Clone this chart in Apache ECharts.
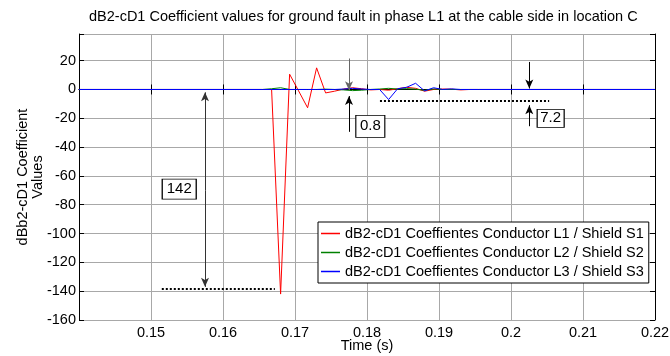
<!DOCTYPE html>
<html><head><meta charset="utf-8">
<script src="https://cdn.jsdelivr.net/npm/echarts@6/dist/echarts.min.js"></script>
<style>html,body{margin:0;padding:0;background:#fff}#c{width:670px;height:356px}</style>
</head><body><div id="c"></div>
<script>
const times = [0.14, 0.1655, 0.16675, 0.168, 0.16925, 0.1705, 0.17175, 0.173, 0.17425, 0.1755, 0.17675, 0.178, 0.17925, 0.1805, 0.18175, 0.183, 0.18425, 0.1855, 0.18675, 0.188, 0.18925, 0.1905, 0.19175, 0.193, 0.19425, 0.1955, 0.2, 0.22];
const redL1 =   [0, 0, 0, -142, 10.6, -1, -12.7, 15, -2.4, -1.2, 0.3, 1.2, 0.5, -0.3, 0, -0.5, 0.5, 1.5, 0.8, -1.2, 0, 0.3, 0.2, -0.3, 0, 0, 0, 0];
const greenL2 = [0, 0, 0.5, 1.2, 0, 0, 0, 0, 0.2, 0, -0.3, -0.8, -0.5, 0, 0.3, 0.8, 0.3, 0.6, 0.2, -0.6, 0.4, 0, 0, 0, 0, 0, 0, 0];
const blueL3 =  [0, 0, 0, 0, 0, 0, 0, 0, 0, 0, 0.3, 0.8, 0.3, 0, 0, -7, 0.5, 1.5, 4.3, -1, 1.2, 0, 0.4, 0, 0, 0, 0, 0];
const seriesNames = ['dB2-cD1 Coeffientes Conductor L1 / Shield S1','dB2-cD1 Coeffientes Conductor L2 / Shield S2','dB2-cD1 Coeffientes Conductor L3 / Shield S3'];
const seriesColors = ['#ff0000','#008000','#0000ff'];
const titleText = 'dB2-cD1 Coefficient values for ground fault in phase L1 at the cable side in location C';
const yName = ['dBb2-cD1 Coefficient','Values'];
const xName = 'Time (s)';
// annotations (data coords)
const annoArrows = [ // [x, yFrom, yTo, color]
  [0.1575, -70, -2, '#333'], [0.1575, -70, -137, '#333'],
  [0.1775, 21.5, -0.5, '#666'], [0.1775, -29.4, -4.6, '#000'],
  [0.20254, 19.1, 0.7, '#000'], [0.20254, -25.5, -10.9, '#000']
];
const annoDotted = [[0.1515, 0.1672, -138], [0.1818, 0.2053, -8.1]];
const annoBoxes = [[0.15392, -69.1, '142', 34, 20], [0.18046, -25.6, '0.8', 29, 22], [0.20551, -20, '7.2', 27, 18]];

const pair = (a,b)=>a.map((v,i)=>[v,b[i]]);
const chart = echarts.init(document.getElementById('c'), null, {renderer:'canvas'});
const FF = '"Liberation Sans", Arial, sans-serif';
const FS = 14.5;
const seriesData = [redL1, greenL2, blueL3];
const series = seriesData.map((d,i)=>({
  name: seriesNames[i], type:'line', data: pair(times,d), symbol:'none', showSymbol:false,
  lineStyle:{color:seriesColors[i], width:1}, itemStyle:{color:seriesColors[i]}, animation:false, silent:true, z:2+i
}));
const mlData = [];
annoArrows.forEach(a=>{
  mlData.push([{coord:[a[0],a[1]], symbol:'none', lineStyle:{color:a[3], width:1, type:'solid'}},{coord:[a[0],a[2]], symbol:'arrow', symbolSize:[6,9]}]);
});
annoDotted.forEach(d=>{
  mlData.push([{coord:[d[0],d[2]], symbol:'none', lineStyle:{color:'#000', width:2, type:[2,2]}},{coord:[d[1],d[2]], symbol:'none'}]);
});
series.push({
  name:'anno', type:'line', data:[], silent:true, animation:false, z:10,
  markLine:{silent:true, animation:false, symbol:['none','arrow'], label:{show:false}, emphasis:{disabled:true}, data:mlData},
  markPoint:{silent:true, animation:false, data: annoBoxes.map(b=>({coord:[b[0],b[1]], value:b[2], symbol:'rect', symbolSize:[b[3],b[4]],
    itemStyle:{color:'#fff', borderColor:'#000', borderWidth:1},
    label:{show:true, position:'inside', formatter:b[2], color:'#000', fontSize:15, fontFamily:FF}}))}
});
chart.setOption({
  animation:false,
  backgroundColor:'#fff',
  title:{text:titleText, left:89, top:9, textStyle:{fontSize:FS, fontWeight:'normal', color:'#000', fontFamily:FF}, padding:0},
  grid:{left:79, right:15, top:34, bottom:36, containLabel:false, outerBoundsMode:'none'},
  legend:{data:seriesNames, orient:'vertical', left:318, top:222, padding:[4,5,4,3], itemGap:4, itemWidth:19, itemHeight:1.5, itemTextGap:2, icon:'rect',
    backgroundColor:'#fff', borderColor:'#000', borderWidth:1, textStyle:{fontSize:FS, color:'#000', fontFamily:FF, lineHeight:15}, selectedMode:false},
  xAxis:[{type:'value', min:0.14, max:0.22, interval:0.01, name:xName, nameLocation:'middle', nameGap:18, nameMoveOverlap:false,
    nameTextStyle:{fontSize:FS, color:'#000', fontFamily:FF},
    axisLine:{lineStyle:{color:'#000', width:1}}, axisTick:{inside:true, length:5, lineStyle:{color:'#000'}},
    axisLabel:{margin:5, fontSize:FS, color:'#000', fontFamily:FF, formatter:v=>Math.abs(v-0.14)<1e-9?'':String(+v.toFixed(2))},
    splitLine:{show:true, lineStyle:{color:'#a8a8a8', width:1}}},
   {type:'value', position:'top', min:0.14, max:0.22, interval:0.01, axisLine:{lineStyle:{color:'#000'}}, axisTick:{inside:true, length:5, lineStyle:{color:'#000'}}, axisLabel:{show:false}, splitLine:{show:false}}],
  yAxis:[{type:'value', min:-160, max:38.5, interval:20,
    axisLine:{show:true, lineStyle:{color:'#000', width:1}}, axisTick:{show:true, inside:true, length:5, lineStyle:{color:'#000'}},
    axisLabel:{margin:3, fontSize:FS, color:'#000', fontFamily:FF, formatter:v=>(Math.round(v)%20===0 && Math.abs(v-Math.round(v))<1e-9)?String(Math.round(v)):''},
    splitLine:{show:true, lineStyle:{color:'#a8a8a8', width:1}}},
   {type:'value', position:'right', min:-160, max:38.5, interval:20, axisLine:{show:true, lineStyle:{color:'#000'}}, axisTick:{show:true, inside:true, length:5, lineStyle:{color:'#000'}}, axisLabel:{show:false}, splitLine:{show:false}}],
  graphic:[{type:'text', x:30, y:177, rotation:Math.PI/2, style:{text:yName.join('\n'), fontSize:FS, fontFamily:FF, fill:'#000', align:'center', verticalAlign:'middle', lineHeight:15}}],
  series: series
});
</script></body></html>
